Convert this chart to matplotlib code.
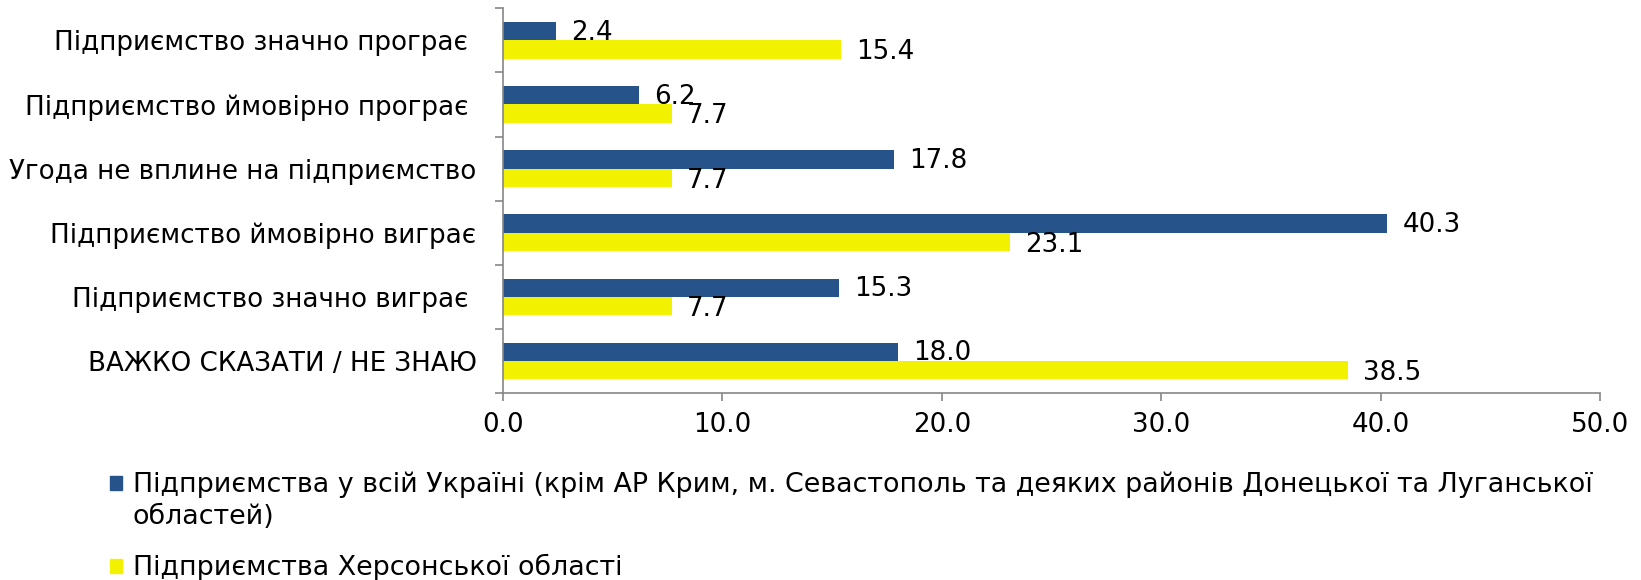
import matplotlib
matplotlib.use("Agg")
import matplotlib.pyplot as plt
import numpy as np
from matplotlib.patches import Rectangle

categories = [
    "Підприємство значно програє ",
    "Підприємство ймовірно програє ",
    "Угода не вплине на підприємство",
    "Підприємство ймовірно виграє",
    "Підприємство значно виграє ",
    "ВАЖКО СКАЗАТИ / НЕ ЗНАЮ",
]
ukraine = [2.4, 6.2, 17.8, 40.3, 15.3, 18.0]
kherson = [15.4, 7.7, 7.7, 23.1, 7.7, 38.5]
series_names = [
    "Підприємства у всій Україні (крім АР Крим, м. Севастополь та деяких районів Донецької та Луганської\nобластей)",
    "Підприємства Херсонської області",
]
xticks = [0, 10, 20, 30, 40, 50]

BLUE = "#25538A"
YELLOW = "#F2F200"
GRAY = "#868686"
FS = 18.8
LFS = 19.4

plt.rcParams['font.family'] = ['DejaVu Sans']
fig = plt.figure(figsize=(16.41, 5.80), dpi=100)
ax = fig.add_axes([0.3065, 0.3224, 0.975 - 0.3065, 0.9857 - 0.3224])

n = len(categories)
y = np.arange(n)
h = 0.285
ax.barh(y - h / 2, ukraine, height=h, color=BLUE)
ax.barh(y + h / 2, kherson, height=h, color=YELLOW)

for yi, v in zip(y, ukraine):
    ax.annotate(f"{v:.1f}", (v, yi - h / 2), xytext=(11, -1), textcoords="offset points",
                ha="left", va="center", fontsize=FS)
for yi, v in zip(y, kherson):
    ax.annotate(f"{v:.1f}", (v, yi + h / 2), xytext=(11, -2), textcoords="offset points",
                ha="left", va="center", fontsize=FS)

ax.set_ylim(n - 0.5, -0.5)
ax.set_xlim(0, 50)
ax.set_yticks(y)
ax.set_yticklabels(categories, fontsize=FS)
ax.set_yticks(np.arange(n + 1) - 0.5, minor=True)
ax.tick_params(axis="y", which="major", length=0, pad=19)
ax.tick_params(axis="y", which="minor", length=6, color=GRAY, width=1.2)
ax.set_xticks(xticks)
ax.set_xticklabels([f"{t:.1f}" for t in xticks], fontsize=FS)
ax.tick_params(axis="x", length=6, color=GRAY, width=1.2, pad=8)

for s in ["top", "right"]:
    ax.spines[s].set_visible(False)
for s in ["left", "bottom"]:
    ax.spines[s].set_color(GRAY)
    ax.spines[s].set_linewidth(1.2)

# legend
W, H = 1641.0, 580.0
leg_items = [(BLUE, series_names[0], 483), (YELLOW, series_names[1], 566)]
for color, label, ypx in leg_items:
    fig.patches.append(Rectangle((110 / W, 1 - (ypx + 7) / H), 12 / W, 14 / H,
                                 transform=fig.transFigure, color=color))
    fig.text(133 / W, 1 - (ypx - 12) / H, label, fontsize=LFS, va="top", ha="left",
             linespacing=1.35)

fig.savefig("out.png", dpi=100)
